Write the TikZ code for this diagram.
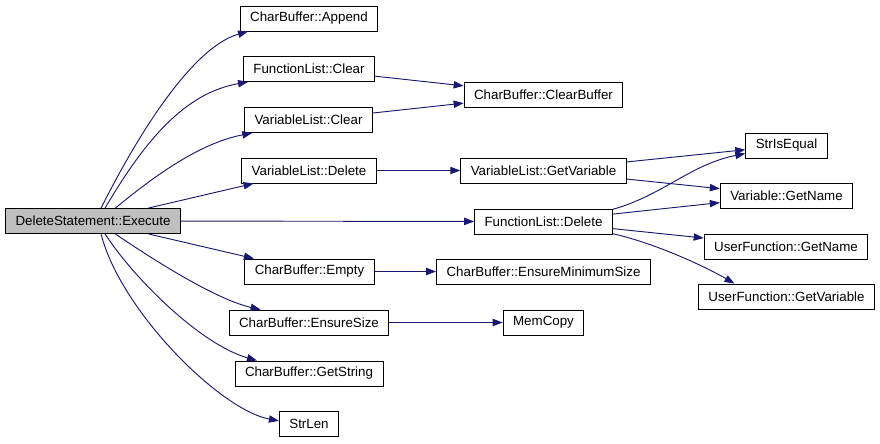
\documentclass[tikz,border=0pt]{standalone}
\usepackage{fontspec}
\setmainfont{Liberation Sans}
\usetikzlibrary{arrows.meta}
\definecolor{CGEdge}{HTML}{191970}
\definecolor{CGRoot}{HTML}{BFBFBF}

\begin{document}
\begin{tikzpicture}[x=0.75pt,y=-0.75pt,
    fn/.style={draw=black,fill=white,line width=0.7pt,rectangle,
      minimum height=18.75pt,inner xsep=7.5pt,inner ysep=0pt,
      font=\fontsize{10}{12}\selectfont},
    root/.style={fn,fill=CGRoot},
    call/.style={draw=CGEdge,line width=0.7pt,
      -{Triangle[length=7.5pt,width=5.5pt]}}
  ]
  \useasboundingbox (0,0) rectangle (880,443);
  % caller
  \node[root] (exec) at (93,221) {DeleteStatement::Execute};
  % first level
  \node[fn] (append) at (309,18.5) {CharBuffer::Append};
  \node[fn] (flclear) at (309,69) {FunctionList::Clear};
  \node[fn] (vlclear) at (308.5,120) {VariableList::Clear};
  \node[fn] (vldelete) at (309,170.5) {VariableList::Delete};
  \node[fn] (empty) at (309.5,271.5) {CharBuffer::Empty};
  \node[fn] (ensize) at (309,322.5) {CharBuffer::EnsureSize};
  \node[fn] (getstr) at (309,373.5) {CharBuffer::GetString};
  \node[fn] (strlen) at (309,424) {StrLen};
  % second level
  \node[fn] (clrbuf) at (543.5,94.5) {CharBuffer::ClearBuffer};
  \node[fn] (getvar) at (543.5,170.5) {VariableList::GetVariable};
  \node[fn] (fldelete) at (543.5,221.5) {FunctionList::Delete};
  \node[fn] (ensmin) at (543.5,271.5) {CharBuffer::EnsureMinimumSize};
  \node[fn] (memcopy) at (543.5,322.5) {MemCopy};
  % third level
  \node[fn] (streq) at (786.5,145.5) {StrIsEqual};
  \node[fn] (vargetname) at (786.5,195.5) {Variable::GetName};
  \node[fn] (ufgetname) at (786,246.5) {UserFunction::GetName};
  \node[fn] (ufgetvar) at (786.5,296.5) {UserFunction::GetVariable};

  % straight calls
  \foreach \a/\b in {exec/vldelete,exec/fldelete,exec/empty,
      flclear/clrbuf,vlclear/clrbuf,vldelete/getvar,
      empty/ensmin,ensize/memcopy,getvar/streq,getvar/vargetname,
      fldelete/vargetname,fldelete/ufgetname}
    \draw[call] (\a) -- (\b);

  % bent calls
  \draw[call] (exec.58.4) .. controls +(34,-68) and +(-57,16) .. (append.192.4);
  \draw[call] (exec.47.3) .. controls +(40,-68) and +(-63,11) .. (flclear.192.1);
  \draw[call] (exec.30.6) .. controls +(40,-33) and +(-52,10) .. (vlclear.193.1);
  \draw[call] (exec.-30.6) .. controls +(35,24) and +(-45,-10) .. (ensize.165.7);
  \draw[call] (exec.-47.3) .. controls +(30,46) and +(-56,-16) .. (getstr.166.7);
  \draw[call] (exec.-58.4) .. controls +(19,76) and +(-59,-11) .. (strlen.174.3);
  \draw[call] (fldelete.10.6) .. controls +(50,-14) and +(-55,11) .. (streq.191.6);
  \draw[call] (fldelete.-10.6) .. controls +(40,9) and +(-33,-19) .. (ufgetvar.166.8);
\end{tikzpicture}
\end{document}
